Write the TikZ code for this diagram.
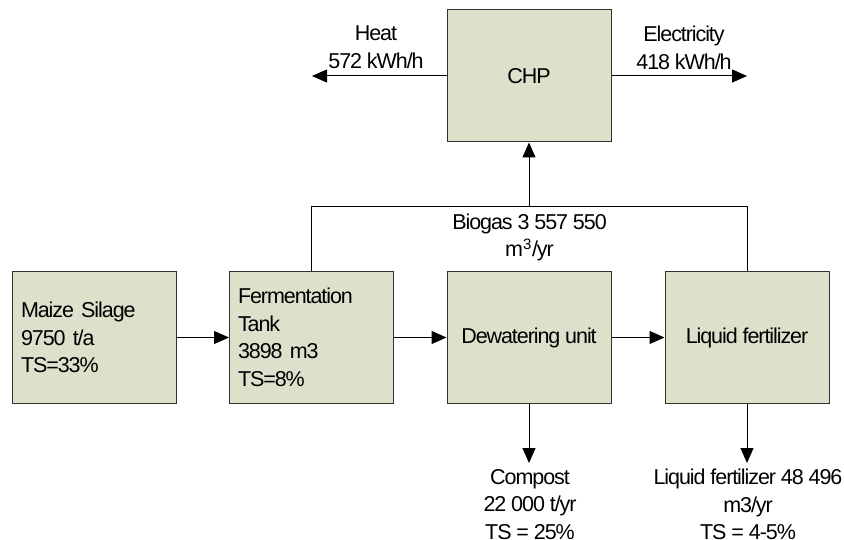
\documentclass[tikz,border=0pt]{standalone}
\usepackage{fontspec}
\setmainfont[LetterSpace=-5]{Liberation Sans}
\usetikzlibrary{arrows.meta}
\definecolor{boxfill}{RGB}{221,224,203}
\definecolor{edge}{RGB}{50,50,50}
\begin{document}
\begin{tikzpicture}[x=1pt,y=-1pt,
  txt/.style={font=\fontsize{21.5}{27.5}\selectfont},
  unit/.style={txt, draw=edge, fill=boxfill, line width=1pt, minimum width=164pt, minimum height=131pt, inner sep=0pt},
  flow/.style={draw=black, line width=1pt, -{Triangle[length=15pt,width=13pt]}},
  plain/.style={draw=black, line width=1pt},
  lbl/.style={txt, align=center, inner sep=0pt, anchor=north}]
\useasboundingbox (0,0) rectangle (844,540);
\node[unit, minimum height=132pt] (chp) at (529,76) {CHP};
\node[unit, text width=146pt, align=left] (maize) at (94,337.5) {Maize Silage\\9750 t/a\\TS=33\%};
\node[unit, text width=147pt, align=left] (ferm) at (311.5,337.5) {Fermentation\\Tank\\3898 m3\\TS=8\%};
\node[unit] (dew) at (529,337.5) {Dewatering unit};
\node[unit] (liq) at (747,337.5) {Liquid fertilizer};

\coordinate (heatend) at (312,76);
\coordinate (elecend) at (747,76);
\coordinate (bus) at (0,207);
\coordinate (compend) at (529,463);
\coordinate (liqend) at (747,463);

\draw[flow] (maize.east) -- (ferm.west);
\draw[flow] (ferm.east) -- (dew.west);
\draw[flow] (dew.east) -- (liq.west);
\draw[plain] (ferm.north) -- (ferm.north |- bus) -- (liq.north |- bus) -- (liq.north);
\draw[flow] (chp.south |- bus) -- (chp.south);
\draw[flow] (chp.west) -- (heatend);
\draw[flow] (chp.east) -- (elecend);
\draw[flow] (dew.south) -- (compend);
\draw[flow] (liq.south) -- (liqend);

\node[lbl] (heat) at (376,26) {Heat\\572 kWh/h};
\node[lbl] (elec) at (684,26) {Electricity\\418 kWh/h};
\node[lbl] (biogas) at (529.5,213.5) {Biogas 3 557 550\\m\textsuperscript{3}/yr};
\node[lbl] (compost) at (530,469) {Compost\\22 000 t/yr\\TS = 25\%};
\node[lbl] (liqout) at (748,469) {Liquid fertilizer 48 496\\m3/yr\\TS = 4-5\%};
\end{tikzpicture}
\end{document}
